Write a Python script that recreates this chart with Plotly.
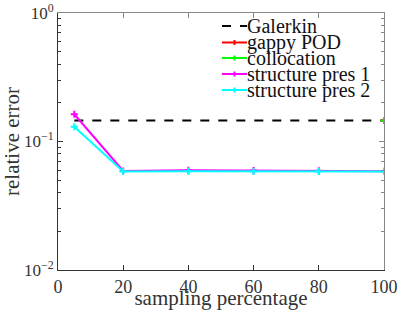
import plotly.graph_objects as go

x_pts = [5, 20, 40, 60, 80, 100]
galerkin_x = [5, 100]
galerkin_y = [0.146, 0.146]
gappy_x = [100]
gappy_y = [0.146]
colloc_x = [100]
colloc_y = [0.146]
sp1_y = [0.163, 0.0590, 0.0597, 0.0594, 0.0593, 0.0588]
sp2_y = [0.130, 0.0585, 0.0586, 0.0585, 0.0585, 0.0585]

x_ticks = [0, 20, 40, 60, 80, 100]
y_tickvals = [0.01, 0.1, 1]
y_ticktext = ["10<sup>−2</sup>", "10<sup>−1</sup>", "10<sup>0</sup>"]

legend_names = ["Galerkin", "gappy POD", "collocation", "structure pres 1", "structure pres 2"]
legend_colors = ["black", "#ff0000", "#00ff00", "#ff00ff", "#00ffff"]
legend_dash = ["dash", "solid", "solid", "solid", "solid"]

FONT = "Liberation Serif"
W, H = 399, 310
ML, MR, MT, MB = 58, 15, 13, 40
PW, PH = W - ML - MR, H - MT - MB


def px(X):
    return (X - ML) / PW


def py(Y):
    return (H - MB - Y) / PH


fig = go.Figure()
fig.add_trace(go.Scatter(x=galerkin_x, y=galerkin_y, mode="lines", name=legend_names[0],
                         line=dict(color=legend_colors[0], width=2, dash="dash")))
series = [(gappy_x, gappy_y), (colloc_x, colloc_y), (x_pts, sp1_y), (x_pts, sp2_y)]
for i, (xs, ys) in enumerate(series, start=1):
    c = legend_colors[i]
    fig.add_trace(go.Scatter(x=xs, y=ys, mode="lines+markers", name=legend_names[i],
                             line=dict(color=c, width=2),
                             marker=dict(symbol="cross-thin", size=5, line=dict(color=c, width=2))))
# top / right mirror axes (lighter colour)
fig.add_trace(go.Scatter(x=[None], y=[None], xaxis="x2", yaxis="y2", showlegend=False,
                         hoverinfo="skip"))

# manual legend (compact, like the reference)
leg_y = [26, 42.5, 58, 74, 90]
shapes = []
annotations = []
for i in range(len(legend_names)):
    yy = py(leg_y[i])
    shapes.append(dict(type="line", xref="paper", yref="paper", x0=px(222), x1=px(247),
                       y0=yy, y1=yy, line=dict(color=legend_colors[i], width=2,
                                               dash="dash" if legend_dash[i] == "dash" else "solid")))
    if i > 0:
        shapes.append(dict(type="line", xref="paper", yref="paper", x0=px(234.5), x1=px(234.5),
                           y0=py(leg_y[i] - 2.5), y1=py(leg_y[i] + 2.5),
                           line=dict(color=legend_colors[i], width=2)))
    annotations.append(dict(xref="paper", yref="paper", x=px(245), y=yy, xanchor="left",
                            yanchor="middle", text=legend_names[i], showarrow=False,
                            font=dict(family=FONT, size=20, color="#111")))

minor_vals = [m * 10**e for e in (-2, -1) for m in range(2, 10)]

fig.update_layout(
    template="none",
    width=W, height=H,
    margin=dict(l=ML, r=MR, t=MT, b=MB, autoexpand=False),
    paper_bgcolor="white", plot_bgcolor="white",
    font=dict(family=FONT, size=18, color="#333"),
    showlegend=False,
    shapes=shapes, annotations=annotations,
    xaxis=dict(range=[0, 100], tickvals=x_ticks, ticks="inside", ticklen=5, tickcolor="#333",
               showline=True, linecolor="#333", linewidth=1, automargin=False,
               showgrid=False, zeroline=False,
               tickfont=dict(family=FONT, size=18, color="#333"),
               title=dict(text="sampling percentage", standoff=0,
                          font=dict(family=FONT, size=21, color="#333"))),
    yaxis=dict(type="log", range=[-2, 0], tickvals=y_tickvals, ticktext=y_ticktext,
               ticks="inside", ticklen=5, tickcolor="#333", automargin=False,
               minor=dict(tickvals=minor_vals, ticks="inside", ticklen=3, tickcolor="#333"),
               showline=True, linecolor="#333", linewidth=1,
               showgrid=False, zeroline=False,
               tickfont=dict(family=FONT, size=17, color="#333"),
               title=dict(text="relative error", standoff=0,
                          font=dict(family=FONT, size=21, color="#333"))),
    xaxis2=dict(range=[0, 100], tickvals=x_ticks, ticks="inside", ticklen=5, tickcolor="#888",
                overlaying="x", side="top", anchor="y2", showticklabels=False, automargin=False,
                showline=True, linecolor="#888", linewidth=1, showgrid=False, zeroline=False),
    yaxis2=dict(type="log", range=[-2, 0], tickvals=y_tickvals, ticks="inside", ticklen=5,
                tickcolor="#888", overlaying="y", side="right", anchor="x2",
                showticklabels=False, automargin=False,
                minor=dict(tickvals=minor_vals, ticks="inside", ticklen=3, tickcolor="#888"),
                showline=True, linecolor="#888", linewidth=1, showgrid=False, zeroline=False),
)

fig.write_html("out.html", config={"displayModeBar": False},
               post_script="document.body.style.margin='0';document.body.style.overflow='hidden';")
